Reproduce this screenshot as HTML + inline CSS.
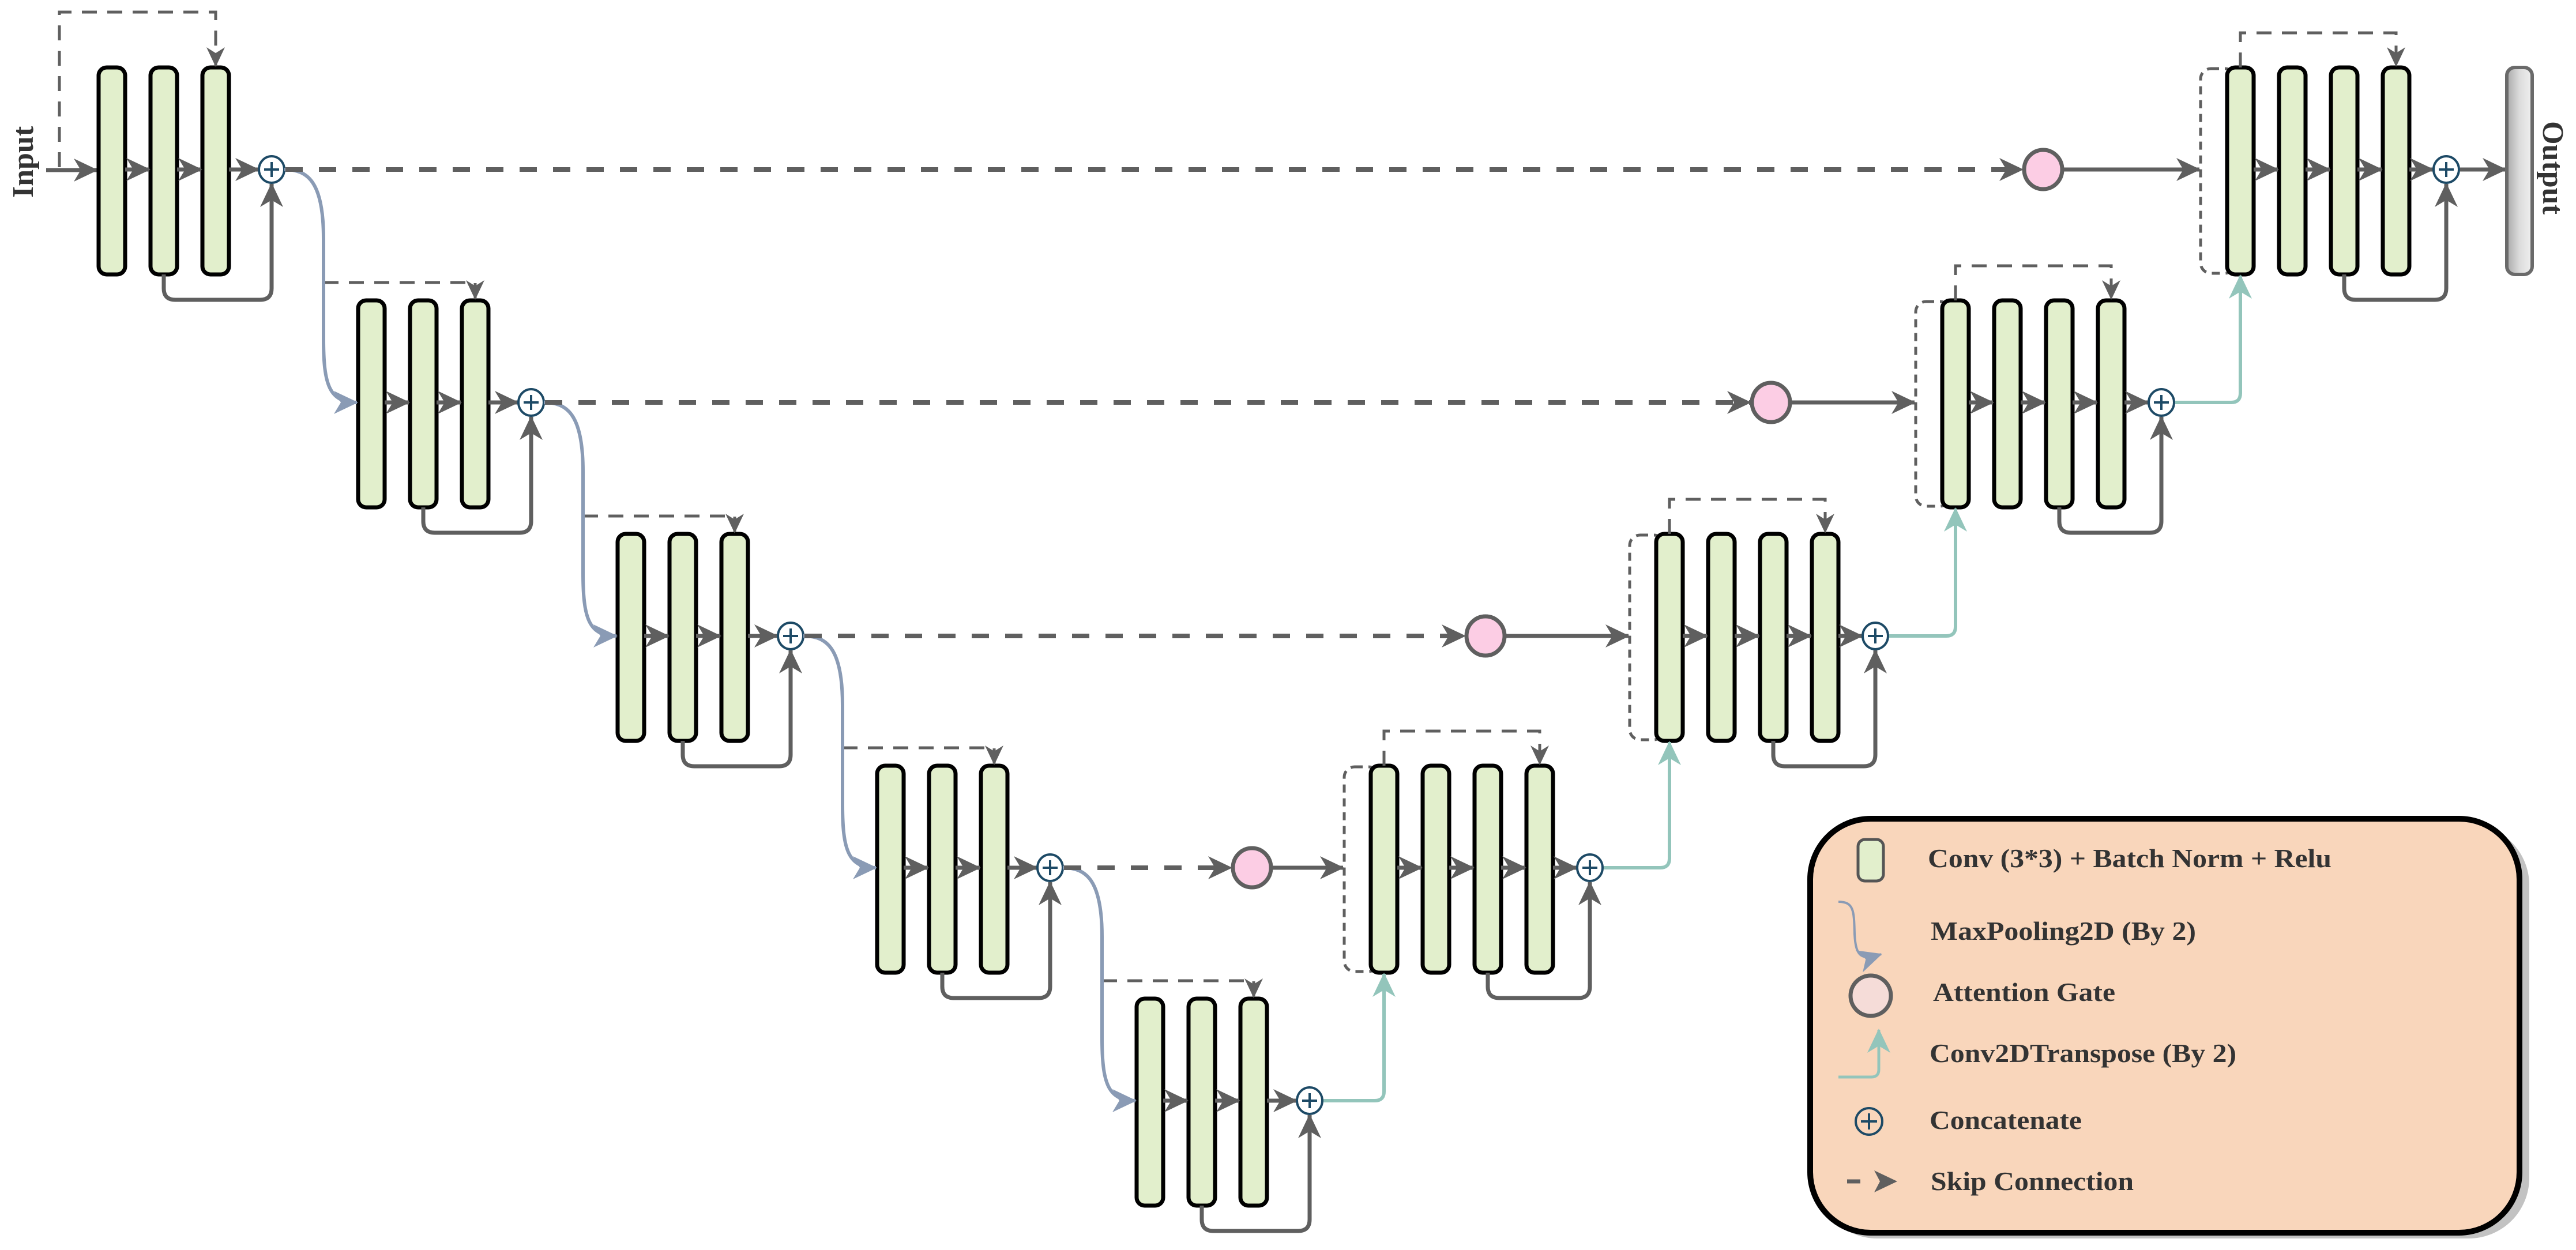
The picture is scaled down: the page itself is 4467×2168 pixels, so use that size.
<!DOCTYPE html>
<html><head><meta charset="utf-8"><style>
html,body{margin:0;padding:0;background:#fff;}
svg{display:block;}
text{font-family:"Liberation Serif",serif;font-weight:bold;fill:#333;}
</style></head><body>
<svg id="d" width="4467" height="2168" viewBox="0 0 4467 2168" xmlns="http://www.w3.org/2000/svg">
<defs>
<marker id="ag" markerUnits="userSpaceOnUse" markerWidth="44" markerHeight="40" refX="40" refY="20" orient="auto"><path d="M0,0 L42,20 L0,40 L12,20 Z" fill="#5f5f5f"/></marker>
<marker id="agS" markerUnits="userSpaceOnUse" markerWidth="36" markerHeight="32" refX="33" refY="16" orient="auto"><path d="M0,0 L34,16 L0,32 L10,16 Z" fill="#5f5f5f"/></marker>
<marker id="ab" markerUnits="userSpaceOnUse" markerWidth="44" markerHeight="40" refX="40" refY="20" orient="auto"><path d="M0,0 L42,20 L0,40 L12,20 Z" fill="#8a9bb5"/></marker>
<marker id="at" markerUnits="userSpaceOnUse" markerWidth="44" markerHeight="40" refX="40" refY="20" orient="auto"><path d="M0,0 L42,20 L0,40 L12,20 Z" fill="#93c5bb"/></marker>
<linearGradient id="og" x1="0" x2="1" y1="0" y2="0"><stop offset="0" stop-color="#a9a9a9"/><stop offset="0.5" stop-color="#dcdcdc"/><stop offset="1" stop-color="#f0f0f0"/></linearGradient>
</defs>
<g id="g"></g>
<g>
<rect x="3150" y="1430" width="1236" height="718" rx="105" fill="#c2c2c2"/>
<rect x="3139" y="1420" width="1230" height="718" rx="105" fill="#f9d6bb" stroke="#000" stroke-width="10"/>
<rect x="3222" y="1456" width="44" height="72" rx="12" fill="#e2efcc" stroke="#555" stroke-width="5"/>
<path d="M3188,1564 C3215,1564 3215,1580 3216,1620 C3218,1660 3228,1666 3262,1655" fill="none" stroke="#8a9bb5" stroke-width="4" marker-end="url(#ab)"/>
<ellipse cx="3244" cy="1727" rx="35" ry="35" fill="#f5dcd8" stroke="#5f5f5f" stroke-width="7"/>
<path d="M3188,1868 L3245,1868 Q3258,1868 3258,1855 L3258,1786" fill="none" stroke="#93c5bb" stroke-width="5" marker-end="url(#at)"/>
<g><ellipse cx="3241" cy="1945" rx="23" ry="23" fill="none" stroke="#1d4a66" stroke-width="4"/><path d="M3227,1945 H3255 M3241,1931 V1959" stroke="#1d4a66" stroke-width="4"/></g>
<g><path d="M3203,2049 H3226" stroke="#5f5f5f" stroke-width="7"/><path d="M3250,2030 L3290,2049 L3250,2068 L3260,2049 Z" fill="#5f5f5f"/></g>
<text x="3343" y="1504" font-size="46" textLength="700" lengthAdjust="spacingAndGlyphs">Conv (3*3) + Batch Norm + Relu</text>
<text x="3348" y="1630" font-size="46" textLength="460" lengthAdjust="spacingAndGlyphs">MaxPooling2D (By 2)</text>
<text x="3352" y="1736" font-size="46" textLength="316" lengthAdjust="spacingAndGlyphs">Attention Gate</text>
<text x="3346" y="1842" font-size="46" textLength="532" lengthAdjust="spacingAndGlyphs">Conv2DTranspose (By 2)</text>
<text x="3346" y="1958" font-size="46" textLength="264" lengthAdjust="spacingAndGlyphs">Concatenate</text>
<text x="3348" y="2064" font-size="46" textLength="352" lengthAdjust="spacingAndGlyphs">Skip Connection</text>
</g>
<text transform="translate(57,281) rotate(-90)" text-anchor="middle" font-size="52">Input</text>
<text transform="translate(4410,291) rotate(90)" text-anchor="middle" font-size="52">Output</text>
</svg>
<script>
const encX = [171, 621, 1071, 1521, 1971];
const encY = [117, 521, 926, 1328, 1732];
const decX = [3862, 3368, 2872, 2377];
const decY = [117, 521, 926, 1328];
const agX = [3543, 3071, 2576, 2171];
const BW = 46, BH = 359, ES = 90;
const NS = 'http://www.w3.org/2000/svg';
const G = document.getElementById('g');
function mk(tag, attrs, parent){const e=document.createElementNS(NS,tag);for(const k in attrs)e.setAttribute(k,attrs[k]);(parent||G).appendChild(e);return e;}
function bar(x,y,name){const r=mk('rect',{x:x,y:y,width:BW,height:BH,rx:14,fill:'#e2efcc',stroke:'#000','stroke-width':7});


return r;}
function concat(cx,cy,name){const g=mk('g',{});


mk('ellipse',{cx:cx,cy:cy,rx:22,ry:23,fill:'#fff',stroke:'#1d4a66','stroke-width':4},g);
mk('path',{d:`M${cx-13},${cy} H${cx+13} M${cx},${cy-13} V${cy+13}`,stroke:'#1d4a66','stroke-width':4},g);}
function line(d,opts,name){const p=mk('path',Object.assign({d:d,fill:'none'},opts));


return p;}
const solid={stroke:'#5f5f5f','stroke-width':7};
// input arrow
line(`M80,295 H168`,Object.assign({'marker-end':'url(#ag)'},solid),'input-arrow');
const encC=[];
for(let l=0;l<5;l++){
  const x=encX[l],y=encY[l],mid=y+177;
  const cx=x+2*ES+BW+74;
  encC.push([cx,mid]);
  for(let b=0;b<3;b++){bar(x+b*ES,y,'encoder-'+(l+1)+'-conv-'+(b+1));}
  for(let b=0;b<2;b++){line(`M${x+b*ES+BW},${mid} H${x+(b+1)*ES-2}`,Object.assign({'marker-end':'url(#ag)'},solid),'encoder-arrow');}
  line(`M${x+2*ES+BW},${mid} H${cx-23}`,Object.assign({'marker-end':'url(#ag)'},solid),'encoder-to-concat-arrow');
  const b2=x+ES+BW/2;
  line(`M${b2},${y+BH} V${y+BH+24} Q${b2},${y+BH+44} ${b2+20},${y+BH+44} H${cx-20} Q${cx},${y+BH+44} ${cx},${y+BH+24} V${mid+25}`,Object.assign({'marker-end':'url(#ag)'},solid),'encoder-residual-loop');
  concat(cx,mid,'encoder-'+(l+1)+'-concat');
  const b3=x+2*ES+BW/2;
  if(l==0){
    line(`M103,290 V21 H${b3} V${y-2}`,{stroke:'#5f5f5f','stroke-width':5,'stroke-dasharray':'26 18','marker-end':'url(#agS)'},'encoder-1-dashed-skip');
  }else{
    const vx=encC[l-1][0]+90;
    line(`M${vx},${y-31} H${b3} V${y-2}`,{stroke:'#5f5f5f','stroke-width':5,'stroke-dasharray':'26 18','marker-end':'url(#agS)'},'encoder-'+(l+1)+'-dashed-skip');
  }
}
// maxpool curves
for(let l=0;l<4;l++){
  const sx=encC[l][0]+22, sy=encC[l][1];
  const ex=encX[l+1]-2, ey=encY[l+1]+177;
  const vx=sx+68;
  line(`M${sx},${sy} C${sx+40},${sy} ${vx},${sy+20} ${vx},${sy+120} L${vx},${ey-110} C${vx},${ey-30} ${vx+10},${ey} ${ex},${ey}`,{stroke:'#8a9bb5','stroke-width':6,'marker-end':'url(#ab)'},'maxpool-'+(l+1));
}
// decoder
const decC=[];
for(let l=0;l<4;l++){
  const x=decX[l],y=decY[l],mid=y+177;
  const cx=x+3*ES+BW+64;
  decC.push([cx,mid]);
  const db=mk('rect',{x:x-46,y:y+2,width:60,height:BH-4,rx:18,fill:'none',stroke:'#5f5f5f','stroke-width':5,'stroke-dasharray':'14 10'});
  
  
  for(let b=0;b<4;b++){bar(x+b*ES,y,'decoder-'+(l+1)+'-conv-'+(b+1));}
  for(let b=0;b<3;b++){line(`M${x+b*ES+BW},${mid} H${x+(b+1)*ES-2}`,Object.assign({'marker-end':'url(#ag)'},solid),'decoder-arrow');}
  line(`M${x+3*ES+BW},${mid} H${cx-23}`,Object.assign({'marker-end':'url(#ag)'},solid),'decoder-to-concat-arrow');
  const b3=x+2*ES+BW/2;
  line(`M${b3},${y+BH} V${y+BH+24} Q${b3},${y+BH+44} ${b3+20},${y+BH+44} H${cx-20} Q${cx},${y+BH+44} ${cx},${y+BH+24} V${mid+25}`,Object.assign({'marker-end':'url(#ag)'},solid),'decoder-residual-loop');
  concat(cx,mid,'decoder-'+(l+1)+'-concat');
  const b1=x+BW/2, b4=x+3*ES+BW/2;
  line(`M${b1},${y} V${y-60} H${b4} V${y-2}`,{stroke:'#5f5f5f','stroke-width':5,'stroke-dasharray':'26 18','marker-end':'url(#agS)'},'decoder-'+(l+1)+'-dashed-skip');
  // attention gate and skip
  const [ecx,ecy]=encC[l];
  line(`M${ecx+24},${ecy} H${agX[l]-36}`,{stroke:'#5f5f5f','stroke-width':8,'stroke-dasharray':'30 28','marker-end':'url(#ag)'},'skip-connection-'+(l+1));
  const a=mk('ellipse',{cx:agX[l],cy:mid,rx:33,ry:34,fill:'#fccde4',stroke:'#5f5f5f','stroke-width':7});
  
  
  line(`M${agX[l]+36},${mid} H${x-48}`,Object.assign({'marker-end':'url(#ag)'},solid),'attention-to-decoder-arrow');
}
// transpose (teal)
for(let l=0;l<4;l++){
  let src = (l==3)? encC[4] : decC[l+1];
  const sx=src[0]+24, sy=src[1];
  const tx=decX[l]+BW/2, ty=decY[l]+BH+2;
  line(`M${sx},${sy} H${tx-16} Q${tx},${sy} ${tx},${sy-16} V${ty}`,{stroke:'#93c5bb','stroke-width':6,'marker-end':'url(#at)'},'conv-transpose-'+(l+1));
}
// output
line(`M${decC[0][0]+24},${decC[0][1]} H4345`,Object.assign({'marker-end':'url(#ag)'},solid),'output-arrow');
const ob=mk('rect',{x:4347,y:117,width:44,height:BH,rx:14,fill:'url(#og)',stroke:'#6a6a6a','stroke-width':6});


</script>
</body></html>
